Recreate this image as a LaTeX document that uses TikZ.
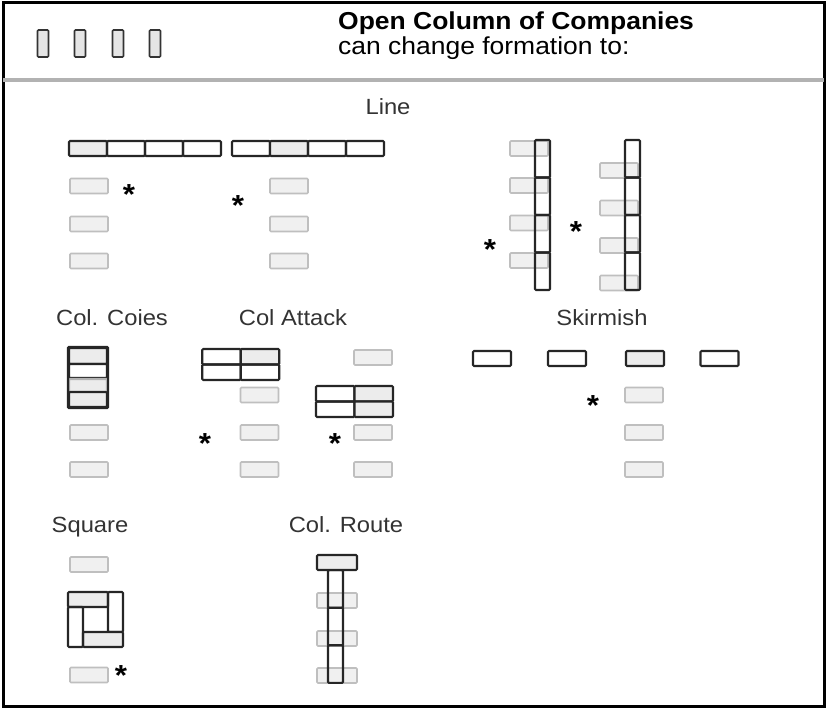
\documentclass[tikz,border=0pt]{standalone}
\usepackage{fontspec}
\setmainfont{Liberation Sans}[FakeStretch=1.08]
\usepackage{tikz}
\usetikzlibrary{positioning}

\begin{document}
\begin{tikzpicture}[x=1pt, y=-1pt,
    coy/.style={draw=black!85, line width=2.1pt, rounded corners=1pt, inner sep=0pt,
                minimum width=38pt, minimum height=15pt},
    coyfill/.style={coy, fill=gray!15},
    vcoy/.style={coy, minimum width=15pt, minimum height=37.5pt},
    ghost/.style={draw=gray!50, line width=1.6pt, fill=gray!12, rounded corners=1pt,
                  inner sep=0pt, minimum width=38pt, minimum height=15pt},
    hdrcoy/.style={draw=black!80, fill=gray!20, line width=1.6pt, rounded corners=1pt,
                   inner sep=0pt, minimum width=11pt, minimum height=27pt},
    lbl/.style={anchor=base, text=black!80, font=\fontsize{22}{24}\selectfont},
    asterisk/.style={anchor=base, yshift=-16pt, inner sep=0pt,
                     font=\fontsize{29}{29}\selectfont\bfseries}]
  \useasboundingbox (0,0) rectangle (827,709);
  % Frame and header
  \draw[line width=3pt] (3,3) rectangle (824,706);
  \draw[gray!60, line width=4pt] (3,80) -- (824,80);
  \node[hdrcoy] (h1) at (43,43.5) {};
  \node[hdrcoy] (h2) at (80,43.5) {};
  \node[hdrcoy] (h3) at (118,43.5) {};
  \node[hdrcoy] (h4) at (155,43.5) {};
  \node[anchor=base west, inner sep=0pt, font=\fontsize{24.5}{25}\selectfont\bfseries]
    (title) at (338,30) {Open Column of Companies};
  \node[anchor=base west, inner sep=0pt, font=\fontsize{24.5}{25}\selectfont]
    (subtitle) at (338,55) {can change formation to:};

  % Line
  \node[lbl] (lineL) at (388,114) {Line};
  \node[coyfill] (la1) at (88,148.5) {};
  \node[coy] (la2) at (126,148.5) {};
  \node[coy] (la3) at (164,148.5) {};
  \node[coy] (la4) at (202,148.5) {};
  \node[coy] (lb1) at (251,148.5) {};
  \node[coyfill] (lb2) at (289,148.5) {};
  \node[coy] (lb3) at (327,148.5) {};
  \node[coy] (lb4) at (365,148.5) {};
  \node[ghost] (lga1) at (89,186) {};
  \node[ghost] (lga2) at (89,224) {};
  \node[ghost] (lga3) at (89,261) {};
  \node[ghost] (lgb1) at (289,186) {};
  \node[ghost] (lgb2) at (289,224) {};
  \node[ghost] (lgb3) at (289,261) {};
  \node[asterisk] (s1) at (129,188) {*};
  \node[asterisk] (s2) at (238,199) {*};

  % Line, wheeled to the flank
  \node[ghost] (vga1) at (529,148.5) {};
  \node[ghost] (vga2) at (529,185.5) {};
  \node[ghost] (vga3) at (529,223) {};
  \node[ghost] (vga4) at (529,260.5) {};
  \node[vcoy] (va1) at (542.5,158.75) {};
  \node[vcoy] (va2) at (542.5,196.25) {};
  \node[vcoy] (va3) at (542.5,233.75) {};
  \node[vcoy] (va4) at (542.5,271.25) {};
  \node[ghost] (vgb1) at (619,170.5) {};
  \node[ghost] (vgb2) at (619,208) {};
  \node[ghost] (vgb3) at (619,245.5) {};
  \node[ghost] (vgb4) at (619,283) {};
  \node[vcoy] (vb1) at (632.5,158.75) {};
  \node[vcoy] (vb2) at (632.5,196.25) {};
  \node[vcoy] (vb3) at (632.5,233.75) {};
  \node[vcoy] (vb4) at (632.5,271.25) {};
  \node[asterisk] (s3) at (490,243) {*};
  \node[asterisk] (s4) at (576,225) {*};

  % Col. Coies
  \node[lbl] (coiesL) at (112,325) {Col. Coies};
  \node[coyfill, minimum height=16pt] (cc1) at (88,356) {};
  \node[coy, minimum height=14pt, fill=white] (cc2) at (88,371) {};
  \node[coyfill, minimum height=14pt, draw=gray!60] (cc3) at (88,386) {};
  \node[coyfill, minimum height=15pt] (cc4) at (88,399.5) {};
  \draw[black!85, line width=2.1pt, rounded corners=1pt] (cc1.north west) rectangle (cc4.south east);
  \node[ghost] (ccg1) at (89,432.5) {};
  \node[ghost] (ccg2) at (89,469.5) {};

  % Col Attack
  \node[lbl] (attackL) at (293,325) {Col Attack};
  \node[coy, minimum width=38.5pt, minimum height=15.5pt] (ca1) at (221.5,356.75) {};
  \node[coyfill, minimum width=38.5pt, minimum height=15.5pt] (ca2) at (260,356.75) {};
  \node[coy, minimum width=38.5pt, minimum height=15.5pt] (ca3) at (221.5,372.25) {};
  \node[coy, minimum width=38.5pt, minimum height=15.5pt] (ca4) at (260,372.25) {};
  \node[ghost] (cag1) at (259.5,395) {};
  \node[ghost] (cag2) at (259.5,432.5) {};
  \node[ghost] (cag3) at (259.5,469.5) {};
  \node[asterisk] (s5) at (205,437) {*};
  \node[ghost] (cbg1) at (373,357.5) {};
  \node[coy, minimum width=38.5pt, minimum height=15.5pt] (cb1) at (335.25,393.75) {};
  \node[coyfill, minimum width=38.5pt, minimum height=15.5pt] (cb2) at (373.75,393.75) {};
  \node[coy, minimum width=38.5pt, minimum height=15.5pt] (cb3) at (335.25,409.25) {};
  \node[coyfill, minimum width=38.5pt, minimum height=15.5pt] (cb4) at (373.75,409.25) {};
  \node[ghost] (cbg2) at (373,432.5) {};
  \node[ghost] (cbg3) at (373,469.5) {};
  \node[asterisk] (s6) at (335,437) {*};

  % Skirmish
  \node[lbl] (skirmL) at (602,325) {Skirmish};
  \node[coy] (sk1) at (492,358.5) {};
  \node[coy] (sk2) at (567,358.5) {};
  \node[coyfill] (sk3) at (645,358.5) {};
  \node[coy] (sk4) at (719.5,358.5) {};
  \node[ghost] (skg1) at (644,395) {};
  \node[ghost] (skg2) at (644,432.5) {};
  \node[ghost] (skg3) at (644,469.5) {};
  \node[asterisk] (s7) at (593,399) {*};

  % Square
  \node[lbl] (squareL) at (90,532) {Square};
  \node[ghost] (sqg1) at (89,564.5) {};
  \node[coyfill, minimum width=40pt] (sq1) at (88,599.5) {};
  \node[coy, minimum width=15pt, minimum height=40pt] (sq2) at (115.5,612) {};
  \node[coyfill, minimum width=40pt] (sq3) at (103,639.5) {};
  \node[coy, minimum width=15pt, minimum height=40pt] (sq4) at (75.5,627) {};
  \node[ghost] (sqg2) at (89,675) {};
  \node[asterisk] (s8) at (121,669) {*};

  % Col. Route
  \node[lbl] (routeL) at (346,532) {Col. Route};
  \node[coyfill, minimum width=40pt] (cr0) at (337,562.5) {};
  \node[ghost, minimum width=40pt] (crg1) at (337,600.5) {};
  \node[ghost, minimum width=40pt] (crg2) at (337,638.5) {};
  \node[ghost, minimum width=40pt] (crg3) at (337,675.5) {};
  \node[vcoy, minimum height=37.7pt] (cr1) at (335.5,589) {};
  \node[vcoy, minimum height=37.7pt] (cr2) at (335.5,626.5) {};
  \node[vcoy, minimum height=37.7pt] (cr3) at (335.5,664) {};
\end{tikzpicture}
\end{document}
